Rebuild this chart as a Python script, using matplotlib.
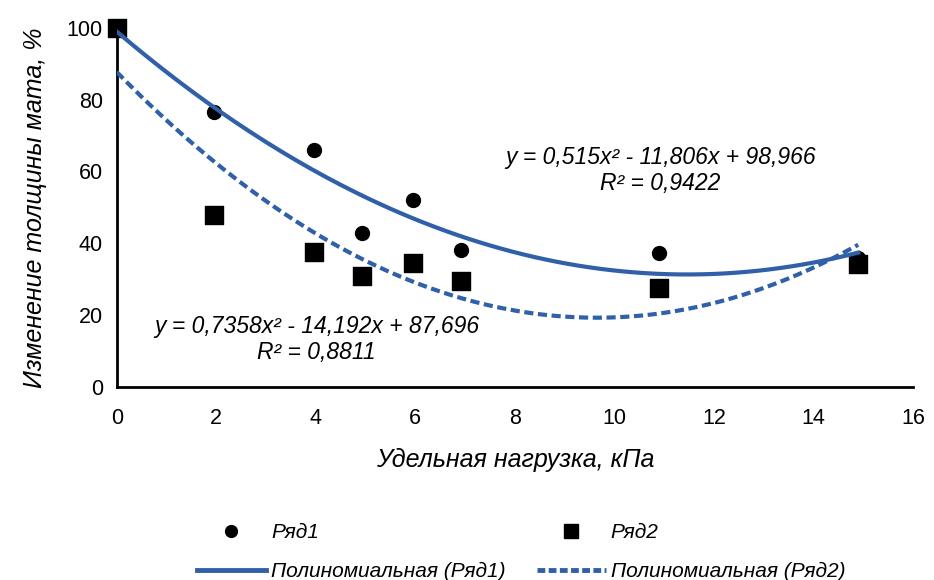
import numpy as np
import matplotlib
matplotlib.use('Agg')
import matplotlib.pyplot as plt
from matplotlib.lines import Line2D

# data
x1 = [0, 1.95, 3.96, 4.92, 5.95, 6.91, 10.9, 14.9]
y1 = [100, 76.6, 66, 42.9, 52, 38.2, 37.3, 36]
x2 = [0, 1.95, 3.96, 4.92, 5.95, 6.91, 10.9, 14.9]
y2 = [100, 47.9, 37.6, 30.9, 34.5, 29.5, 27.6, 34.3]

# trend line coefficients from the labels (a, b, c)
coef1 = [0.515, -11.806, 98.966]
coef2 = [0.7358, -14.192, 87.696]

eq1 = 'y = 0,515x² - 11,806x + 98,966\nR² = 0,9422'
eq2 = 'y = 0,7358x² - 14,192x + 87,696\nR² = 0,8811'

blue = '#3060A8'
fam = ['Liberation Sans', 'DejaVu Sans']
plt.rcParams['font.family'] = fam

fig = plt.figure(figsize=(9.34, 5.8), dpi=100)
ax = fig.add_axes([0.125, 0.333, 0.8525, 0.619])

ax.scatter(x1, y1, marker='o', s=100, color='black', zorder=3, clip_on=False)
ax.scatter(x2, y2, marker='s', s=150, color='black', zorder=3, clip_on=False)

xs = np.linspace(0, 14.9, 200)
ax.plot(xs, np.polyval(coef1, xs), color=blue, lw=3, zorder=4)
ax.plot(xs, np.polyval(coef2, xs), color=blue, lw=3, ls=(0, (2.2, 1.1)), zorder=4)

ax.text(10.93, 60.2, eq1, ha='center', va='center', fontsize=16.5, style='italic',
        linespacing=1.15)
ax.text(4.02, 13.1, eq2, ha='center', va='center', fontsize=16.5, style='italic',
        linespacing=1.15)

ax.set_xlim(0, 16)
ax.set_ylim(0, 100)
ax.set_xticks(range(0, 17, 2))
ax.set_yticks(range(0, 101, 20))
ax.tick_params(length=0, labelsize=15.5)
ax.tick_params(axis='x', pad=15)
ax.tick_params(axis='y', pad=10)
for s in ['top', 'right']:
    ax.spines[s].set_visible(False)
for s in ['left', 'bottom']:
    ax.spines[s].set_linewidth(2)
    ax.spines[s].set_color('black')

ax.set_xlabel('Удельная нагрузка, кПа', fontsize=18, style='italic', labelpad=14)
ax.set_ylabel('Изменение толщины мата, %', fontsize=18, style='italic', labelpad=14)

handles = [
    Line2D([], [], marker='o', ls='', color='black', markersize=8.5),
    Line2D([], [], color=blue, lw=3.5),
    Line2D([], [], marker='s', ls='', color='black', markersize=9.5),
    Line2D([], [], color=blue, lw=3.5, ls=(0, (1.6, 0.7))),
]
labels = ['Ряд1', 'Полиномиальная (Ряд1)', 'Ряд2', 'Полиномиальная (Ряд2)']
fig.legend(handles, labels, ncol=2, loc='center', bbox_to_anchor=(0.558, 0.048),
           frameon=False, prop={'size': 15, 'style': 'italic', 'family': fam},
           columnspacing=1.5, handlelength=3.3, handletextpad=0.25, labelspacing=0.95)

fig.savefig('out.png', dpi=100)
